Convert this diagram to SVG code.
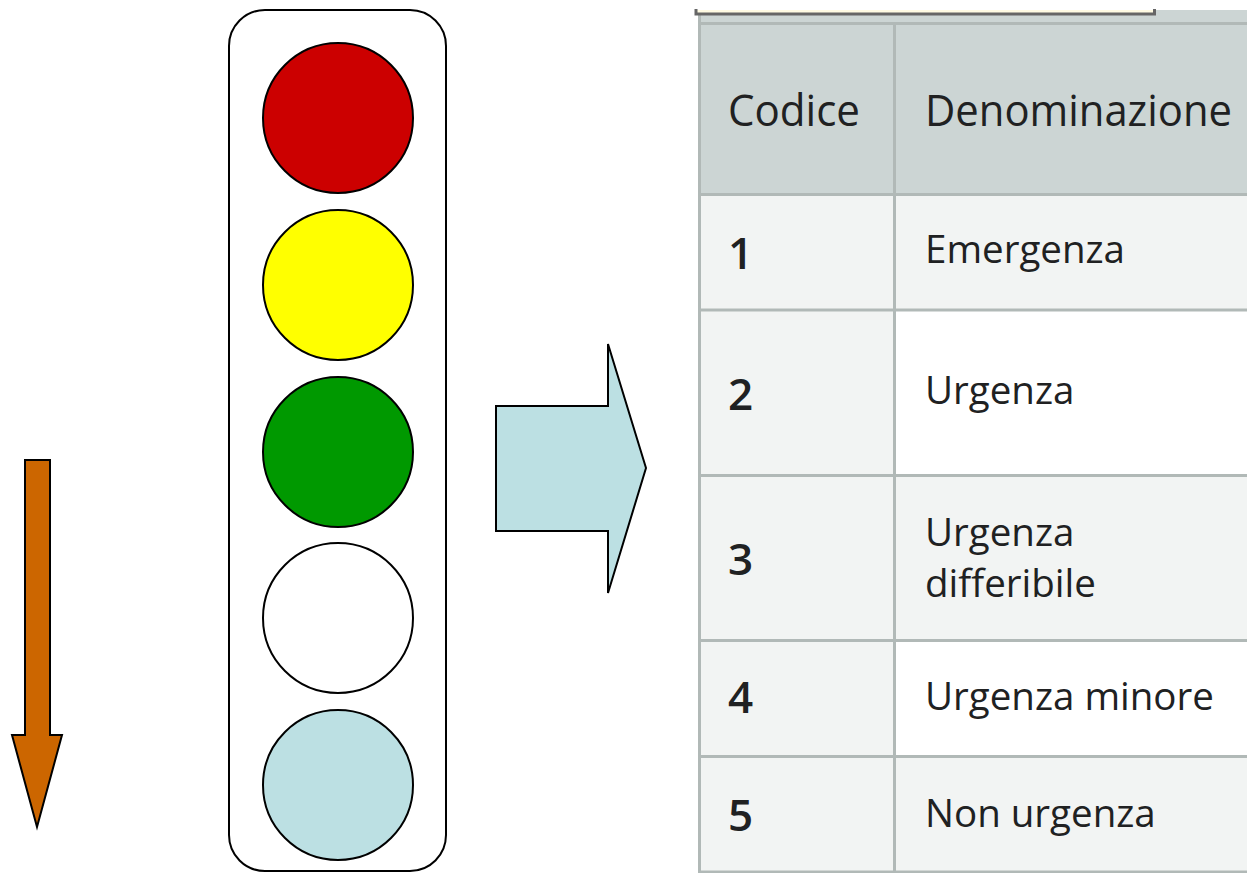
<svg xmlns="http://www.w3.org/2000/svg" width="1247" height="873" viewBox="0 0 1247 873">
  <style>
    .shape { stroke: #000; stroke-width: 2; stroke-linejoin: miter; }
    .grid { stroke: #b1b9b7; stroke-width: 3; fill: none; }
    .hd { font-family: "Open Sans", "DejaVu Sans", sans-serif; font-size: 43px; font-weight: 500; fill: #202122; }
    .num { font-family: "Open Sans", "DejaVu Sans", sans-serif; font-size: 44px; font-weight: 600; fill: #202122; }
    .txt { font-family: "Open Sans", "DejaVu Sans", sans-serif; font-size: 38.5px; fill: #202122; }
  </style>
  <rect width="1247" height="873" fill="#ffffff"/>

  <g id="down-arrow">
    <polygon class="shape" fill="#cc6600" points="25,460 50,460 50,735 62,735 37,827 12,735 25,735"/>
  </g>

  <g id="traffic-light">
    <rect class="shape" x="229" y="10" width="217" height="861" rx="36" ry="36" fill="#ffffff"/>
    <circle id="light-red" class="shape" cx="338" cy="118" r="75" fill="#cc0000"/>
    <circle id="light-yellow" class="shape" cx="338" cy="285" r="75" fill="#ffff00"/>
    <circle id="light-green" class="shape" cx="338" cy="452" r="75" fill="#009900"/>
    <circle id="light-white" class="shape" cx="338" cy="618" r="75" fill="#ffffff"/>
    <circle id="light-blue" class="shape" cx="338" cy="785" r="75" fill="#bce0e3"/>
  </g>

  <g id="right-arrow">
    <polygon class="shape" fill="#bce0e3" points="496,406 608,406 608,344 646,468 608,593 608,531 496,531"/>
  </g>

  <g id="table">
    <rect x="699" y="10" width="548" height="863" fill="#f2f4f3"/>
    <rect x="699" y="10" width="548" height="184" fill="#ccd5d4"/>
    <rect x="895" y="310" width="352" height="165" fill="#ffffff"/>
    <rect x="895" y="640" width="352" height="116" fill="#ffffff"/>
    <path class="grid" d="M699,23.5 H1247 M699,194.5 H1247 M699,310 H1247 M699,475.5 H1247 M699,640.5 H1247 M699,756.5 H1247 M699,872 H1247 M699.5,10 V873 M894.5,23 V873"/>
    <rect x="696" y="10" width="459" height="3" fill="#fffbe3"/>
    <path d="M696,9 V14 H1154.5 V9" fill="none" stroke="#666666" stroke-width="3"/>

    <text class="hd" x="728" y="126" textLength="132" lengthAdjust="spacingAndGlyphs">Codice</text>
    <text class="hd" x="925" y="126" textLength="307" lengthAdjust="spacingAndGlyphs">Denominazione</text>

    <text class="num" x="728" y="269">1</text>
    <text class="txt" x="925" y="263">Emergenza</text>

    <text class="num" x="728" y="410">2</text>
    <text class="txt" x="925" y="404">Urgenza</text>

    <text class="num" x="728" y="575">3</text>
    <text class="txt" x="925" y="546">Urgenza</text>
    <text class="txt" x="925" y="597">differibile</text>

    <text class="num" x="728" y="713">4</text>
    <text class="txt" x="925" y="710">Urgenza minore</text>

    <text class="num" x="728" y="831">5</text>
    <text class="txt" x="925" y="827">Non urgenza</text>
  </g>
</svg>
